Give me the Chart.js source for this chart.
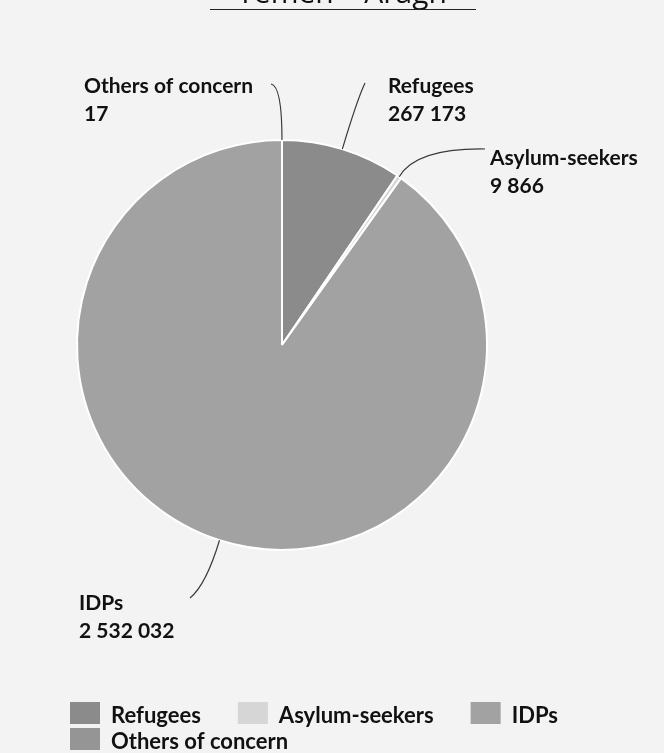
<!DOCTYPE html>
<html>
<head>
<meta charset="utf-8">
<script src="https://cdn.jsdelivr.net/npm/chart.js@4.4.1/dist/chart.umd.min.js"></script>
<style>
  body { margin: 0; background: #f3f3f3; }
  canvas { display: block; }
</style>
</head>
<body>
<canvas id="pieChart" width="664" height="753"></canvas>
<script>
// chart data
const titleText = 'Yemen – Aragh';
const categories = ['Refugees', 'Asylum-seekers', 'IDPs', 'Others of concern'];
const values = [267173, 9866, 2532032, 17];
const sliceColors = ['#8b8b8b', '#d6d6d6', '#a2a2a2', '#959595'];

// thousands with a space, like "2 532 032"
function fmt(n) {
    return String(n).replace(/\B(?=(\d{3})+(?!\d))/g, ' ');
}

// where each outside label sits and where its leader line ends
const labelSpots = [
    { x: 388, y: 93, end: [365, 83], ctrl: [357, 100] },
    { x: 490, y: 165, end: [485, 149], ctrl: [416, 148] },
    { x: 79, y: 610, end: [190, 598], ctrl: [206, 585] },
    { x: 84, y: 93, end: [271, 84], ctrl: [282, 86] }
];

const bgPlugin = {
    id: 'bg',
    beforeDraw(chart) {
        const ctx = chart.ctx;
        ctx.save();
        ctx.fillStyle = '#f3f3f3';
        ctx.fillRect(0, 0, chart.width, chart.height);
        ctx.restore();
    }
};

const extrasPlugin = {
    id: 'extras',
    afterDraw(chart) {
        const ctx = chart.ctx;
        const meta = chart.getDatasetMeta(0);
        ctx.save();

        // title, cut off at the top like the source image
        ctx.fillStyle = '#111';
        ctx.font = '30px "Open Sans", sans-serif';
        ctx.textAlign = 'center';
        ctx.textBaseline = 'alphabetic';
        ctx.fillText(titleText, 342, 3);
        ctx.strokeStyle = '#222';
        ctx.lineWidth = 1;
        ctx.beginPath();
        ctx.moveTo(210, 9.5);
        ctx.lineTo(476, 9.5);
        ctx.stroke();

        // leader lines + labels
        meta.data.forEach((arc, i) => {
            const p = arc.getProps(['x', 'y', 'startAngle', 'endAngle', 'outerRadius'], true);
            let mid = (p.startAngle + p.endAngle) / 2;
            if (i === 3) mid = p.endAngle;
            const ax = p.x + Math.cos(mid) * p.outerRadius;
            const ay = p.y + Math.sin(mid) * p.outerRadius;
            const s = labelSpots[i];
            ctx.strokeStyle = '#3a3a3a';
            ctx.lineWidth = 1.2;
            ctx.beginPath();
            ctx.moveTo(ax, ay);
            ctx.quadraticCurveTo(s.ctrl[0], s.ctrl[1], s.end[0], s.end[1]);
            ctx.stroke();

            ctx.fillStyle = '#111';
            ctx.font = 'bold 21px Lato, sans-serif';
            ctx.textAlign = 'left';
            ctx.fillText(categories[i], s.x, s.y);
            ctx.fillText(fmt(values[i]), s.x, s.y + 28);
        });

        // legend, left aligned, wraps to a second row
        ctx.font = 'bold 22px Lato, sans-serif';
        let x = 70, y = 702;
        categories.forEach((name, i) => {
            const w = 30 + 11 + ctx.measureText(name).width;
            if (x + w > 600) { x = 70; y += 26; }
            ctx.fillStyle = sliceColors[i];
            ctx.fillRect(x, y, 30, 22);
            ctx.fillStyle = '#111';
            ctx.fillText(name, x + 41, y + 21);
            x += w + 37;
        });
        ctx.restore();
    }
};

new Chart(document.getElementById('pieChart'), {
    type: 'pie',
    data: {
        labels: categories,
        datasets: [{
            data: values,
            backgroundColor: sliceColors,
            borderColor: '#ffffff',
            borderWidth: 2
        }]
    },
    options: {
        responsive: false,
        animation: false,
        devicePixelRatio: 1,
        layout: { padding: { left: 76, top: 139, right: 176, bottom: 202 } },
        plugins: {
            legend: { display: false },
            tooltip: { enabled: false }
        }
    },
    plugins: [bgPlugin, extrasPlugin]
});
</script>
</body>
</html>
